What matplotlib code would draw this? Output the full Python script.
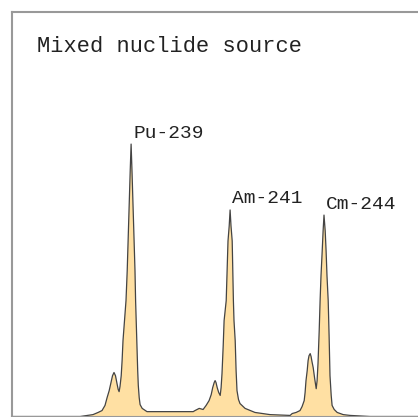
import matplotlib
matplotlib.use('Agg')
import matplotlib.pyplot as plt

# alpha spectrum: energy (MeV) vs counts
energy = [4.760, 4.987, 5.030, 5.047,
          # Pu-239 group
          5.060, 5.070, 5.077, 5.084, 5.090, 5.095, 5.100, 5.105, 5.110, 5.114,
          5.117, 5.120, 5.124, 5.127, 5.130, 5.135, 5.140, 5.144, 5.147, 5.150,
          5.154, 5.157, 5.160, 5.164, 5.167, 5.170, 5.172, 5.175, 5.177, 5.179,
          5.181, 5.184, 5.187, 5.194, 5.210, 5.287,
          # Am-241 group
          5.364, 5.370, 5.384, 5.397, 5.407, 5.417, 5.424, 5.429, 5.434, 5.437,
          5.440, 5.444, 5.449, 5.454, 5.457, 5.460, 5.464, 5.467, 5.474, 5.477,
          5.480, 5.484, 5.487, 5.490, 5.494, 5.496, 5.498, 5.500, 5.504, 5.507,
          5.510, 5.515, 5.520, 5.537, 5.570, 5.620,
          # Cm-244 group
          5.687, 5.694, 5.707, 5.720, 5.727, 5.734, 5.737, 5.740, 5.744, 5.747,
          5.750, 5.754, 5.757, 5.760, 5.764, 5.769, 5.774, 5.777, 5.780, 5.784,
          5.787, 5.790, 5.794, 5.797, 5.800, 5.804, 5.807, 5.810, 5.814, 5.817,
          5.820, 5.824, 5.827, 5.834, 5.844, 5.864, 5.887, 5.954, 6.160]
counts = [0, 0, 7, 15,
          22, 41, 70, 96, 126, 151, 163, 151, 122, 100,
          92, 111, 151, 207, 281, 355, 429, 539, 650, 761,
          909, 1009, 909, 761, 650, 539, 429, 318, 244, 170,
          115, 70, 44, 30, 18, 18,
          18, 22, 30, 26, 41, 59, 81, 107, 126, 133,
          126, 107, 89, 78, 107, 159, 262, 355, 429, 539,
          650, 706, 765, 706, 650, 539, 429, 355, 281, 170,
          96, 63, 48, 30, 15, 7,
          4, 11, 15, 22, 37, 59, 89, 133, 170, 207,
          225, 233, 222, 203, 181, 140, 103, 133, 196, 318,
          429, 521, 613, 687, 746, 687, 613, 521, 429, 299,
          151, 78, 41, 26, 15, 7, 4, 0, 0]

peak_names = ['Pu-239', 'Am-241', 'Cm-244']
peak_energy = [5.157, 5.487, 5.800]
peak_counts = [1009, 765, 746]

fig = plt.figure(figsize=(4.18, 4.17), dpi=100)
ax = fig.add_axes([12/418, 0.5/417, 420/418, 405/417])

ax.fill_between(energy, counts, 0, color='#ffe0a3', lw=0)
ax.plot(energy, counts, color='#444444', lw=0.9, solid_joinstyle='round')

ax.set_xlim(4.76, 6.16)
ax.set_ylim(0, 1500)
ax.set_xticks([])
ax.set_yticks([])
for s in ax.spines.values():
    s.set_color('#999999')
    s.set_linewidth(1.5)

ax.text(0.0595, 0.914, 'Mixed nuclide source', transform=ax.transAxes,
        family='Liberation Mono', fontsize=15.8, color='#222222',
        ha='left', va='center')

for name, e, c in zip(peak_names, peak_energy, peak_counts):
    ax.annotate(name, xy=(e, c), xytext=(2, 11), textcoords='offset pixels',
                family='Liberation Mono', fontsize=14, color='#222222',
                ha='left', va='center')

fig.savefig('out.png', dpi=100)
